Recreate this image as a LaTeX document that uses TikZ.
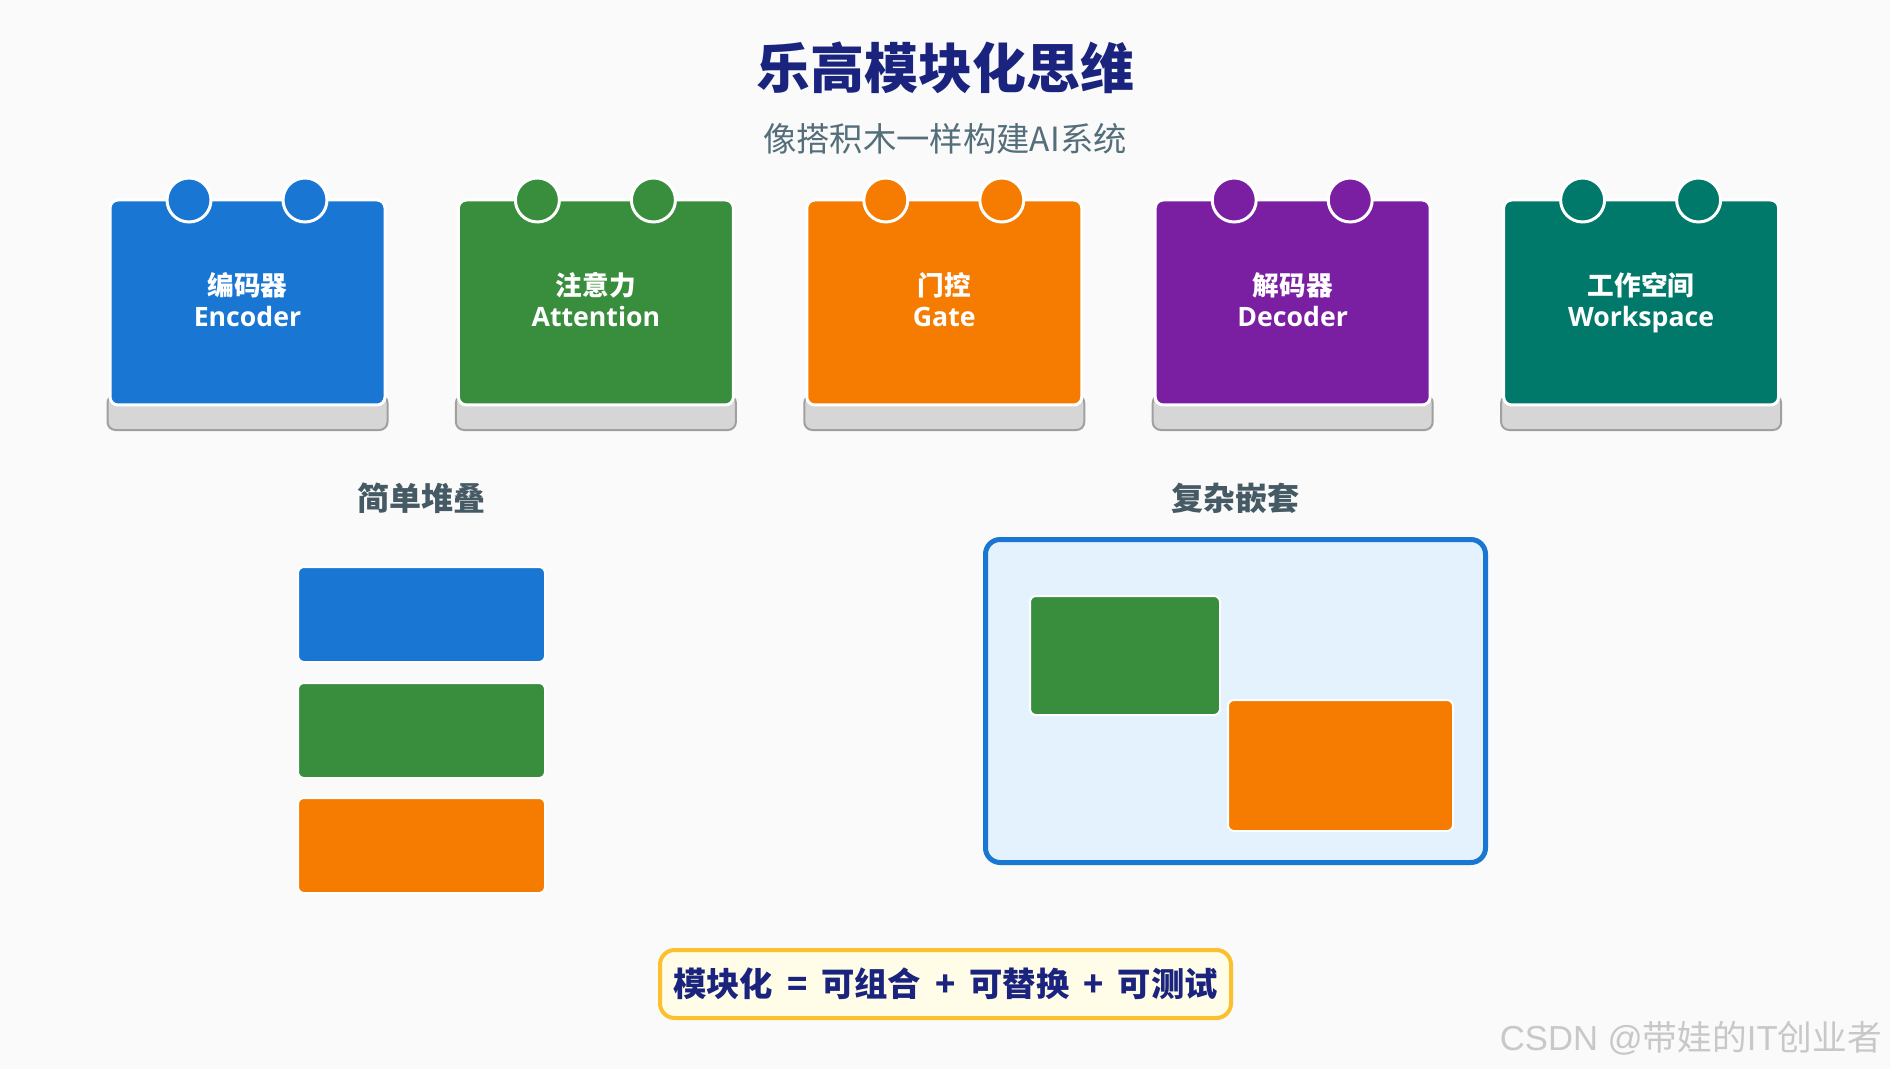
\documentclass[tikz,border=0pt]{standalone}
\usepackage{fontspec}
\setmainfont{Noto Sans CJK SC}
\newfontfamily\cjk{Noto Sans CJK SC}
\newfontfamily\lat{Open Sans}
\newfontfamily\arialike{Liberation Sans}
\definecolor{bg}{HTML}{FAFAFA}
\definecolor{cblue}{HTML}{1976D2}
\definecolor{cgreen}{HTML}{388E3C}
\definecolor{corange}{HTML}{F57C00}
\definecolor{cpurple}{HTML}{7B1FA2}
\definecolor{cteal}{HTML}{00796B}
\definecolor{basefill}{HTML}{D6D6D6}
\definecolor{baseline}{HTML}{A0A0A0}
\definecolor{navy}{HTML}{1A237E}
\definecolor{subgray}{HTML}{546E7A}
\definecolor{lblgray}{HTML}{455A64}
\definecolor{lightblue}{HTML}{E3F2FD}
\definecolor{yelfill}{HTML}{FFFDE7}
\definecolor{yelline}{HTML}{FBC02D}
\definecolor{wmark}{HTML}{C8C8C8}
\tikzset{
  legobase/.style={draw=baseline, fill=basefill, line width=1.5pt, rounded corners=6pt,
    minimum width=210pt, minimum height=26.25pt, inner sep=0pt},
  legoblock/.style={draw=white, line width=2.25pt, rounded corners=6pt,
    minimum width=206.25pt, minimum height=153.75pt, inner sep=0pt},
  stud/.style={circle, draw=white, line width=2.25pt, minimum size=33pt, inner sep=0pt},
  cntext/.style={text=white, font=\cjk\bfseries\fontsize{20pt}{24pt}\selectfont, inner sep=0pt},
  entext/.style={text=white, font=\lat\bfseries\fontsize{20pt}{24pt}\selectfont, inner sep=0pt, anchor=base},
  brick/.style={draw=white, line width=1.5pt, rounded corners=4.5pt, inner sep=0pt},
  sectionlabel/.style={text=lblgray, font=\cjk\bfseries\fontsize{24pt}{28pt}\selectfont, inner sep=0pt}
}
\newcommand{\opsp}[1]{\hspace{0.42em}#1\hspace{0.42em}}
\begin{document}
\begin{tikzpicture}[x=0.75pt,y=-0.75pt]
\fill[bg] (0,0) rectangle (1890,1069);
\useasboundingbox (0,0) rectangle (1890,1069);

% title
\node[text=navy, font=\cjk\bfseries\fontsize{40.5pt}{46pt}\selectfont, inner sep=0pt] (title) at (945,68) {乐高模块化思维};
\node[text=subgray, font=\cjk\fontsize{25pt}{29pt}\selectfont, inner sep=0pt] (subtitle) at (945,139) {像搭积木一样构建AI系统};

% lego blocks
\foreach \i/\col/\cn/\en in {0/cblue/编码器/Encoder, 1/cgreen/注意力/Attention, 2/corange/门控/Gate, 3/cpurple/解码器/Decoder, 4/cteal/工作空间/Workspace}{
  \pgfmathsetmacro\L{110+348.4*\i}
  \node[legobase] (base\i) at (\L+137.5,412.5) {};
  \node[legoblock, fill=\col] (blk\i) at (\L+137.5,302.5) {};
  \node[stud, fill=\col] (studa\i) at (\L+79,200) {};
  \node[stud, fill=\col] (studb\i) at (\L+195,200) {};
  \node[cntext] (cn\i) at (\L+137.5,285) {\cn};
  \node[entext] (en\i) at (\L+137.5,327) {\en};
}

% simple stack
\node[sectionlabel] (lblstack) at (421.5,498) {简单堆叠};
\node[brick, fill=cblue, minimum width=185.25pt, minimum height=71.25pt] (s1) at (421.5,614.5) {};
\node[brick, fill=cgreen, minimum width=185.25pt, minimum height=71.25pt] (s2) at (421.5,730.5) {};
\node[brick, fill=corange, minimum width=185.25pt, minimum height=71.25pt] (s3) at (421.5,845.5) {};

% nested
\node[sectionlabel] (lblnest) at (1235.5,498) {复杂嵌套};
\node[draw=cblue, fill=lightblue, line width=3.75pt, rounded corners=11pt, minimum width=375pt, minimum height=242.25pt, inner sep=0pt] (outer) at (1235.5,701) {};
\node[brick, fill=cgreen, minimum width=142.5pt, minimum height=89.25pt] (ng) at (1125,655.5) {};
\node[brick, fill=corange, minimum width=168.75pt, minimum height=98.25pt] (no) at (1340.5,765.5) {};

% formula
\node[draw=yelline, fill=yelfill, line width=3pt, rounded corners=11pt, minimum width=428.25pt, minimum height=51pt, inner sep=0pt] (fbox) at (945.5,984) {};
\node[text=navy, font=\cjk\bfseries\fontsize{25pt}{30pt}\selectfont, inner sep=0pt] (ftext) at (945.5,984) {模块化\opsp{=}可组合\opsp{+}可替换\opsp{+}可测试};

% watermark
\node[text=wmark, font=\cjk\fontsize{26pt}{30pt}\selectfont, inner sep=0pt, anchor=east] (wm) at (1882,1038) {{\arialike CSDN @}带娃的{\arialike IT}创业者};
\end{tikzpicture}
\end{document}
